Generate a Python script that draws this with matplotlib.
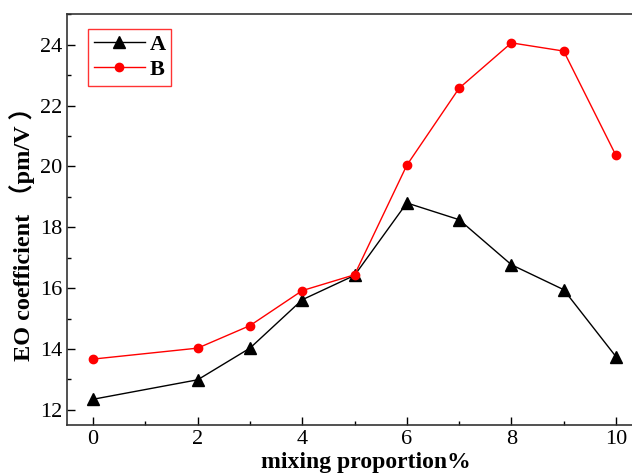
import matplotlib
matplotlib.use("Agg")
import matplotlib.pyplot as plt
from matplotlib.ticker import MultipleLocator

# mixing proportion (%)
proportion = [0, 2, 3, 4, 5, 6, 7, 8, 9, 10]
series_a = [12.35, 12.99, 14.03, 15.62, 16.42, 18.80, 18.25, 16.77, 15.95, 13.75]
series_b = [13.67, 14.03, 14.77, 15.92, 16.44, 20.04, 22.57, 24.06, 23.79, 20.36]

fonts = ['Liberation Serif', 'Noto Sans CJK SC']
plt.rcParams['font.family'] = fonts

fig = plt.figure(figsize=(6.32, 4.75), dpi=100)
ax = fig.add_axes([0.106, 0.105, 0.91, 0.865])

ax.plot(proportion, series_a, color='black', lw=1, marker='^', ms=8, label='A')
ax.plot(proportion, series_b, color='red', lw=1, marker='o', ms=6, label='B')

ax.set_xlim(-0.5, 10.5)
ax.set_ylim(11.5, 25.0)
ax.xaxis.set_major_locator(MultipleLocator(2))
ax.xaxis.set_minor_locator(MultipleLocator(1))
ax.yaxis.set_major_locator(MultipleLocator(2))
ax.yaxis.set_minor_locator(MultipleLocator(1))
ax.tick_params(which='both', direction='in', top=False, right=False, labelsize=16, width=1)
ax.tick_params(which='major', length=6)
ax.tick_params(which='minor', length=3)
for s in ax.spines.values():
    s.set_linewidth(1.2)
    s.set_color('#333333')

ax.set_xlabel('mixing proportion%', fontsize=17, fontweight='bold')
ax.xaxis.set_label_coords(0.52, -0.066)
ax.set_ylabel('EO coefficient （pm/V ）', fontsize=17.5, fontweight='bold')
ax.yaxis.set_label_coords(-0.056, 0.48)

leg = ax.legend(loc='upper left', prop={'weight': 'bold', 'size': 16, 'family': fonts},
                frameon=True, fancybox=False, handlelength=2.3, borderpad=0.25,
                labelspacing=0.2, handletextpad=0.2, borderaxespad=0,
                bbox_to_anchor=(0.037, 0.964))
leg.get_frame().set_edgecolor('red')
leg.get_frame().set_linewidth(1)

fig.savefig('out.png', dpi=100)
